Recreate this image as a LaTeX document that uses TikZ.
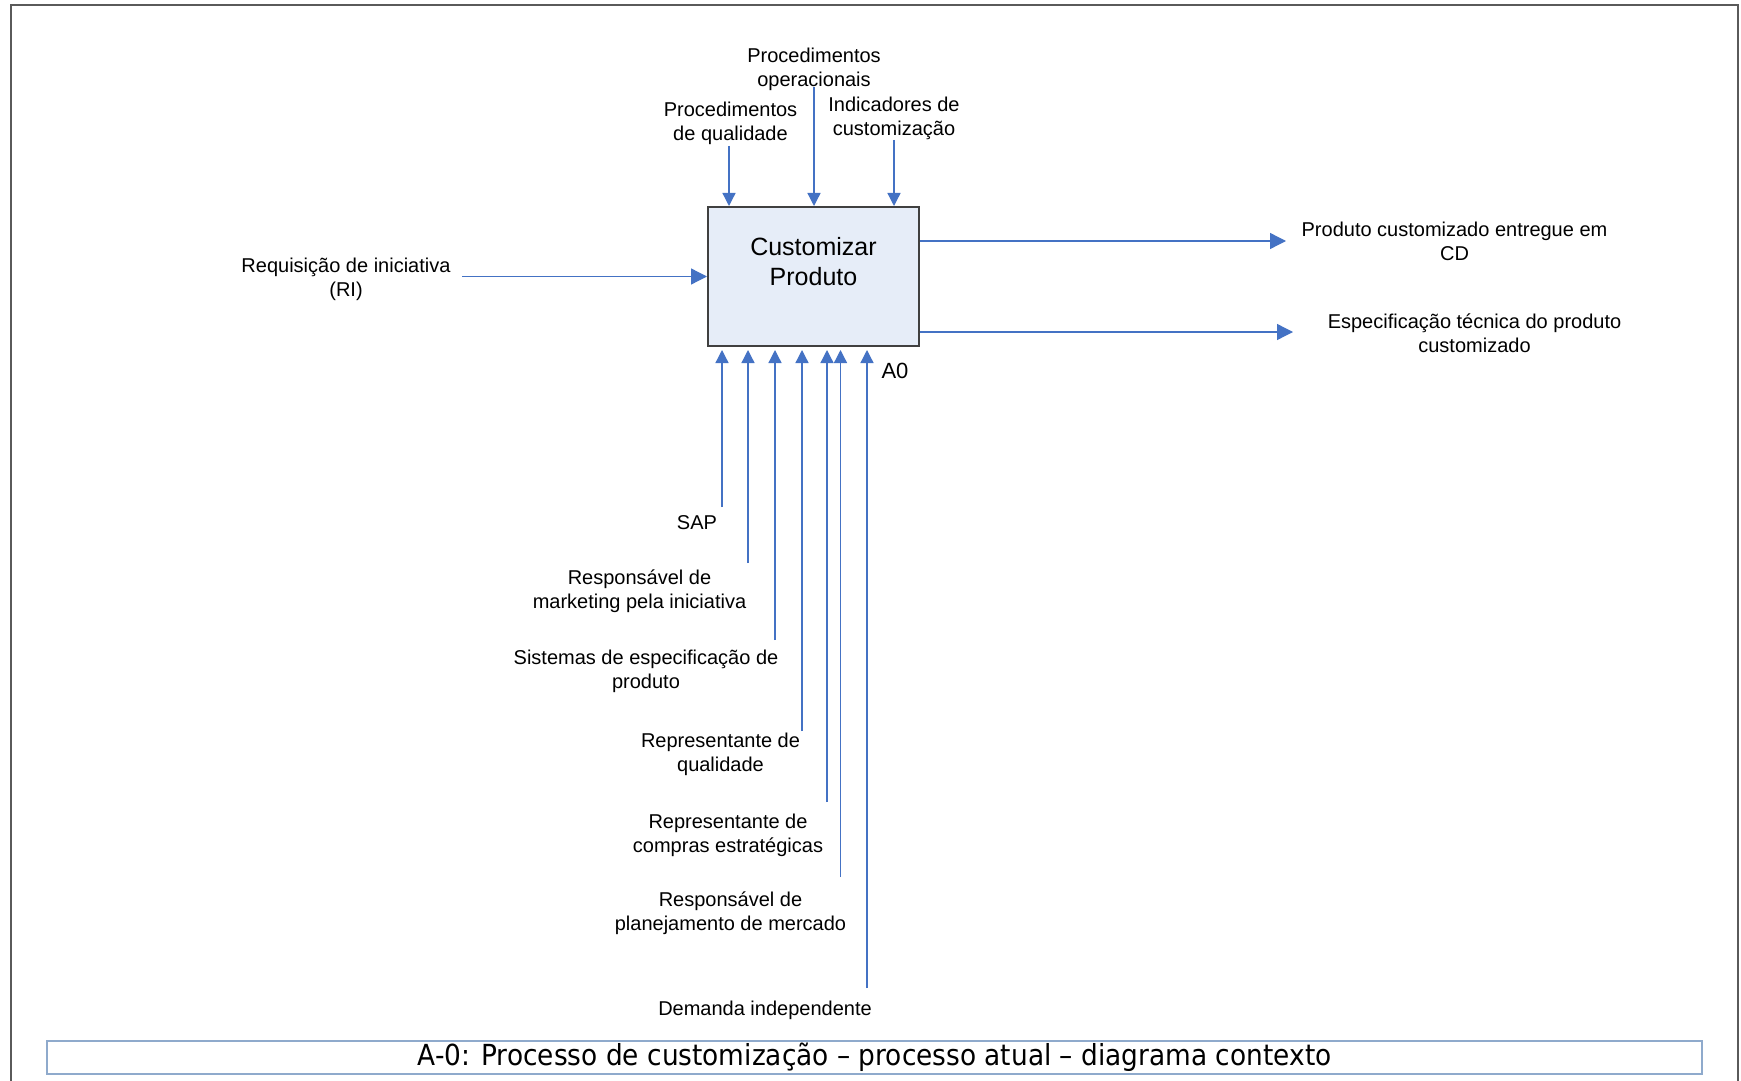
\documentclass[tikz,border=0pt]{standalone}
\usepackage{fontspec}
\setmainfont{Liberation Sans}
\newfontfamily\titlefont{DejaVu Sans}[FakeStretch=0.91]
\usetikzlibrary{arrows.meta}
\definecolor{flow}{RGB}{68,114,196}
\definecolor{boxfill}{RGB}{230,237,248}
\definecolor{framegray}{RGB}{90,90,90}
\definecolor{titleline}{RGB}{143,170,204}

\begin{document}
\begin{tikzpicture}[x=0.5pt,y=-0.5pt,
  lbl/.style={font=\fontsize{10}{12}\selectfont, align=center, inner sep=0pt, yshift=-1.25pt},
  flowv/.style={draw=flow, line width=0.65pt, -{Triangle[length=6.5pt,width=6.5pt]}},
  flowh/.style={draw=flow, line width=0.65pt, -{Triangle[length=8pt,width=8pt]}},
  activity/.style={draw=black!75, line width=1pt, fill=boxfill,
    minimum width=105.5pt, minimum height=69.5pt, inner sep=0pt},
  caption/.style={draw=titleline, line width=1.2pt, minimum width=827.5pt,
    minimum height=16.5pt, inner sep=0pt,
    font=\titlefont\fontsize{14.5}{16}\selectfont}
]
\useasboundingbox (0,0) rectangle (1741,1081);
\fill[white] (0,0) rectangle (1741,1081);
% sheet frame, open at the bottom
\draw[framegray, line width=1pt] (11,1090) -- (11,5) -- (1738,5) -- (1738,1090);

% activity box A0
\node[activity] (box) at (813.5,276.5) {};
\node[font=\fontsize{12.5}{15}\selectfont, align=center, inner sep=0pt] (boxname) at (813.5,262) {Customizar\\Produto};
\node[font=\fontsize{11}{13}\selectfont, inner sep=0pt] (a0) at (895,371) {A0};

% controls (top)
\node[lbl] (ctlA) at (730.5,121) {Procedimentos\\de qualidade};
\node[lbl] (ctlB) at (814,67) {Procedimentos\\operacionais};
\node[lbl] (ctlC) at (894,116) {Indicadores de\\customização};
\coordinate (ctlAs) at (729,146);
\coordinate (ctlBs) at (814,87);
\coordinate (ctlCs) at (894,140);
\draw[flowv] (ctlAs) -- (ctlAs |- box.north);
\draw[flowv] (ctlBs) -- (ctlBs |- box.north);
\draw[flowv] (ctlCs) -- (ctlCs |- box.north);

% input (left)
\node[lbl] (inRI) at (346,276.5) {Requisição de iniciativa\\(RI)};
\coordinate (inRIs) at (462,276.5);
\draw[flowh] (inRIs) -- (box.west |- inRIs);

% outputs (right)
\node[lbl] (out1) at (1454.5,239) {Produto customizado entregue em\\CD};
\node[lbl] (out2) at (1474.5,330.5) {Especificação técnica do produto\\customizado};
\coordinate (out1t) at (1286,241);
\coordinate (out2t) at (1293,332);
\draw[flowh] (box.east |- out1t) -- (out1t);
\draw[flowh] (box.east |- out2t) -- (out2t);

% mechanisms (bottom)
\node[lbl] (mec1) at (697,520) {SAP};
\node[lbl] (mec2) at (639.5,588.5) {Responsável de\\marketing pela iniciativa};
\node[lbl] (mec3) at (646,668.5) {Sistemas de especificação de\\produto};
\node[lbl] (mec4) at (720.5,751.5) {Representante de\\qualidade};
\node[lbl] (mec5) at (728,833) {Representante de\\compras estratégicas};
\node[lbl] (mec6) at (730.5,911) {Responsável de\\planejamento de mercado};
\node[lbl] (mec7) at (765,1008) {Demanda independente};
\foreach \i/\x/\y in {1/722/507, 2/748/563, 3/775/640, 4/802/731,
                      5/827/802, 6/840.5/877, 7/867/988} {
  \coordinate (mec\i s) at (\x,\y);
  \draw[flowv, shorten >=1.5pt] (mec\i s) -- (mec\i s |- box.south);
}

% diagram caption
\node[caption] (title) at (874.5,1057.5) {A-0: Processo de customização – processo atual – diagrama contexto};
\end{tikzpicture}
\end{document}
